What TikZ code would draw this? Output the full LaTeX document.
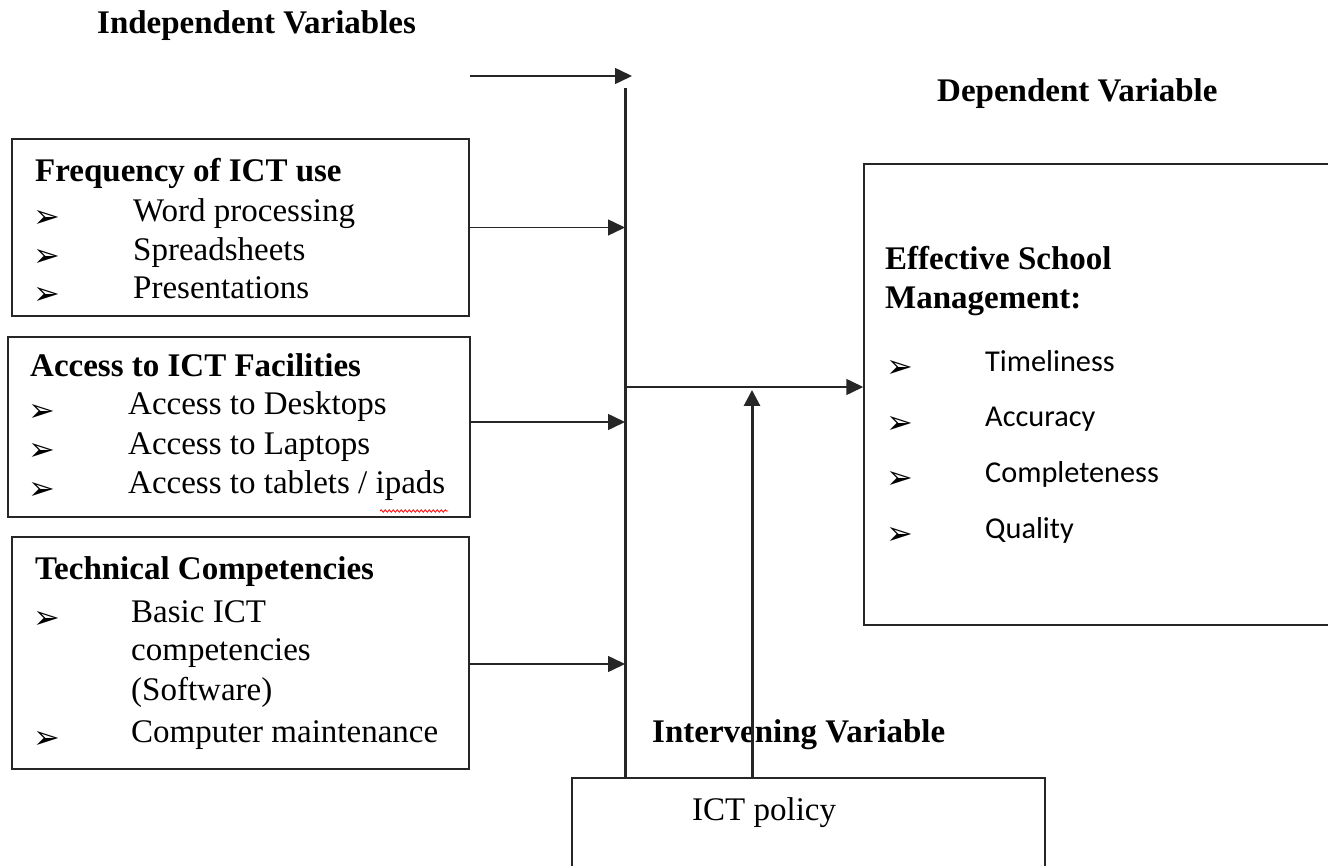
\documentclass[tikz,border=0pt]{standalone}
\usepackage{fontspec}
\setmainfont{Liberation Serif}
\newfontfamily\calibri{Carlito}
\newfontfamily\dingfont{DejaVu Sans}
\usepackage{tikz}
\usetikzlibrary{arrows.meta, positioning, calc}
\usetikzlibrary{decorations.pathmorphing}

\begin{document}
\begin{tikzpicture}[x=1pt, y=-1pt,
  box/.style={draw=black!85, line width=1.5pt, rectangle, inner sep=0pt},
  txt/.style={anchor=base west, inner sep=0pt, font=\fontsize{33}{38}\selectfont},
  head/.style={txt, font=\fontsize{33}{38}\selectfont\bfseries},
  item/.style={anchor=base west, inner sep=0pt, font=\calibri\fontsize{30.3}{36}\selectfont},
  bul/.style={anchor=base west, inner sep=0pt, yshift=-6pt, font=\dingfont\fontsize{32}{32}\selectfont},
  link/.style={-{Triangle[length=17pt,width=16pt]}, line width=1.5pt, draw=black!85}]
  \useasboundingbox (0,0) rectangle (1328,866);
  \clip (0,0) rectangle (1328,866);

  % Titles
  \node[head] (indep) at (97,34) {Independent Variables};
  \node[head] (dep) at (937,102) {Dependent Variable};

  % Frequency box
  \node[box, minimum width=457pt, minimum height=177pt] (freq) at (240.5,227.5) {};
  \node[head] (freqh) at (35,182) {Frequency of ICT use};
  \node[bul] (fb1) at (33,222) {➢};
  \node[bul] (fb2) at (33,261) {➢};
  \node[bul] (fb3) at (33,299) {➢};
  \node[txt] (f1) at (133,222) {Word processing};
  \node[txt] (f2) at (133,261) {Spreadsheets};
  \node[txt] (f3) at (133,299) {Presentations};

  % Access box
  \node[box, minimum width=462pt, minimum height=180pt] (access) at (239,427) {};
  \node[head] (acch) at (30,377) {Access to ICT Facilities};
  \node[bul] (ab1) at (28,415) {➢};
  \node[bul] (ab2) at (28,454) {➢};
  \node[bul] (ab3) at (28,493) {➢};
  \node[txt] (a1) at (128,415) {Access to Desktops};
  \node[txt] (a2) at (128,454) {Access to Laptops};
  \node[txt] (a3) at (128,493) {Access to tablets / ipads};
  \draw[red, line width=0.8pt, decorate, decoration={snake, amplitude=1.2pt, segment length=4pt}]
    (380,511) -- (448,511);

  % Technical box
  \node[box, minimum width=457pt, minimum height=232pt] (tech) at (240.5,653) {};
  \node[head] (techh) at (35,579) {Technical Competencies};
  \node[bul] (tb1) at (33,622) {➢};
  \node[bul] (tb2) at (33,742) {➢};
  \node[txt] (t1) at (131,622) {Basic ICT};
  \node[txt] (t2) at (131,660) {competencies};
  \node[txt] (t3) at (131,700) {(Software)};
  \node[txt] (t4) at (131,742) {Computer maintenance};

  % Dependent box
  \node[box, minimum width=500pt, minimum height=461pt] (esm) at (1114,394.5) {};
  \node[head] (esmh1) at (885,270) {Effective School};
  \node[head] (esmh2) at (885,309) {Management:};
  \node[bul] (eb1) at (886,372) {➢};
  \node[bul] (eb2) at (886,427) {➢};
  \node[bul] (eb3) at (886,482) {➢};
  \node[bul] (eb4) at (886,538) {➢};
  \node[item] (e1) at (985,372) {Timeliness};
  \node[item] (e2) at (985,427) {Accuracy};
  \node[item] (e3) at (985,482) {Completeness};
  \node[item] (e4) at (985,538) {Quality};

  % Intervening
  \node[head] (interv) at (652,742) {Intervening Variable};
  \node[box, minimum width=473pt, minimum height=120pt] (policy) at (808.5,838) {};
  \node[txt] (polt) at (692,820) {ICT policy};

  % Connectors
  \coordinate (spinetop) at (625,88);
  \coordinate (topin) at (470,76);
  \coordinate (toptip) at (632,76);
  \coordinate (join) at (625,387);
  \coordinate (up) at (752,778);
  \draw[line width=3pt, draw=black!85] (spinetop) -- (spinetop |- policy.north);
  \draw[link] (topin) -- (toptip);
  \draw[link] (freq.east) -- (freq.east -| spinetop);
  \draw[link] ([yshift=5pt]access.east) -- ([yshift=5pt]access.east -| spinetop);
  \draw[link] ([yshift=-11pt]tech.east) -- ([yshift=-11pt]tech.east -| spinetop);
  \draw[link] (join) -- (join -| esm.west);
  \draw[link, line width=3pt, -{Triangle[length=16pt,width=16pt]}] (up) -- ([yshift=-3pt]up |- join);
\end{tikzpicture}
\end{document}
